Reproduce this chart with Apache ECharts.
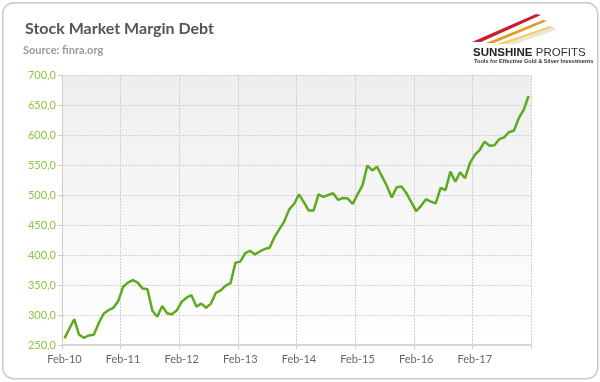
<!DOCTYPE html>
<html>
<head>
<meta charset="utf-8">
<script src="https://cdn.jsdelivr.net/npm/echarts@6/dist/echarts.min.js"></script>
<style>html,body{margin:0;padding:0;background:#fff;}#c{width:600px;height:382px;}</style>
</head>
<body>
<div id="c"></div>
<script>
// Month names and years used to build the category labels (Feb-10 ... Jan-18)
var monthNames = ['Jan','Feb','Mar','Apr','May','Jun','Jul','Aug','Sep','Oct','Nov','Dec'];
var startYear = 10, startMonth = 1, nMonths = 96;
var categories = [];
for (var k = 0; k < nMonths; k++) {
  var m = (startMonth + k) % 12;
  var y = startYear + Math.floor((startMonth + k) / 12);
  categories.push(monthNames[m] + '-' + y);
}

// Margin debt (USD billions)
var marginDebt2010 = [261, 277, 293, 267, 262, 266, 267, 286, 302, 308, 312, 323];
var marginDebt2011 = [347, 354, 358, 354, 344, 343, 307, 297, 315, 303, 301, 308];
var marginDebt2012 = [322, 329, 333, 314, 319, 312, 319, 337, 341, 349, 353, 387];
var marginDebt2013 = [389, 403, 407, 401, 406, 410, 412, 430, 443, 456, 476, 485];
var marginDebt2014 = [501, 488, 474, 474, 501, 497, 500, 503, 492, 495, 494, 485];
var marginDebt2015 = [501, 516, 549, 541, 547, 531, 515, 496, 513, 514, 503, 488];
var marginDebt2016 = [473, 482, 493, 489, 486, 512, 508, 539, 522, 538, 528, 553];
var marginDebt2017 = [567, 575, 589, 582, 583, 593, 596, 605, 607, 628, 642, 665];
var values = [].concat(marginDebt2010, marginDebt2011, marginDebt2012, marginDebt2013,
  marginDebt2014, marginDebt2015, marginDebt2016, marginDebt2017);

// Y axis ticks
var yMin = 250, yMax = 700, yStep = 50;

var chart = echarts.init(document.getElementById('c'), null, {renderer: 'canvas'});
var font = 'Lato, "Open Sans", sans-serif';
chart.setOption({
  animation: false,
  backgroundColor: '#ffffff',
  title: [
    {text: 'Stock Market Margin Debt', left: 20, top: 16,
     textStyle: {fontFamily: font, fontSize: 16, fontWeight: 'bold', color: '#555555'}},
    {text: 'Source: finra.org', left: 18, top: 40,
     textStyle: {fontFamily: font, fontSize: 11, fontWeight: 'bold', color: '#9a9a9a'}}
  ],
  graphic: [
    {type: 'rect', left: 2, top: 2, z: -10, silent: true,
     shape: {width: 595, height: 376, r: 11},
     style: {fill: '#ffffff', stroke: '#c9c9c9', lineWidth: 1.5}},
    // logo swooshes
    {type: 'polygon', z: 10, silent: true,
     shape: {points: [[472, 42], [536, 14], [541, 15], [481, 42]]},
     style: {fill: '#c8202e'}},
    {type: 'polygon', z: 10, silent: true,
     shape: {points: [[486, 43], [543, 20], [547, 21], [494, 43]]},
     style: {fill: '#e39a2c'}},
    {type: 'polygon', z: 10, silent: true,
     shape: {points: [[497, 44], [550, 26], [553, 27], [505, 44]]},
     style: {fill: '#f2cf6a'}},
    {type: 'polygon', z: 9, silent: true,
     shape: {points: [[505, 44], [553, 27], [556, 30], [515, 44]]},
     style: {fill: '#ece6d6'}},
    {type: 'text', left: 473, top: 47, z: 10, silent: true,
     style: {text: '{a|SUNSHINE} {b|PROFITS}',
       rich: {a: {fontFamily: 'Liberation Sans, Arial, sans-serif', fontSize: 11.5, fontWeight: 'bold', fill: '#222222'},
              b: {fontFamily: 'Liberation Sans, Arial, sans-serif', fontSize: 11.5, fill: '#333333'}}}},
    {type: 'text', left: 474, top: 58, z: 10, silent: true,
     style: {text: 'Tools for Effective Gold & Silver Investments',
       fontFamily: 'Liberation Sans, Arial, sans-serif', fontSize: 5.6, fontWeight: 'bold', fill: '#333333'}}
  ],
  grid: {
    left: 62, right: 69, top: 75, bottom: 37,
    show: true, borderWidth: 0,
    backgroundColor: {type: 'linear', x: 0, y: 0, x2: 0, y2: 1,
      colorStops: [{offset: 0, color: '#eeeeee'}, {offset: 1, color: '#ffffff'}]}
  },
  xAxis: {
    type: 'category',
    data: categories,
    boundaryGap: true,
    axisLine: {show: true, lineStyle: {color: '#d6d6d6', width: 2}},
    axisTick: {show: true, interval: 11, length: 4, lineStyle: {color: '#cccccc'}},
    axisLabel: {interval: 11, margin: 9, color: '#666666', fontFamily: font, fontSize: 11},
    splitLine: {show: true, interval: 11, lineStyle: {color: '#cfcfcf', type: [2, 1], width: 1}}
  },
  yAxis: {
    type: 'value',
    min: yMin, max: yMax, interval: yStep,
    axisLine: {show: true, lineStyle: {color: '#cccccc', width: 1}},
    axisTick: {show: true, length: 4, lineStyle: {color: '#cccccc'}},
    axisLabel: {margin: 6, color: '#8cc63f', fontFamily: font, fontSize: 11,
      formatter: function (v) { return v.toFixed(1).replace('.', ','); }},
    splitLine: {show: true, lineStyle: {color: '#d2d2d2', type: [2, 1], width: 1}}
  },
  series: [{
    type: 'line',
    data: values,
    symbol: 'none',
    lineStyle: {color: '#5daa1f', width: 2.5},
    itemStyle: {color: '#5daa1f'}
  }]
});
</script>
</body>
</html>
